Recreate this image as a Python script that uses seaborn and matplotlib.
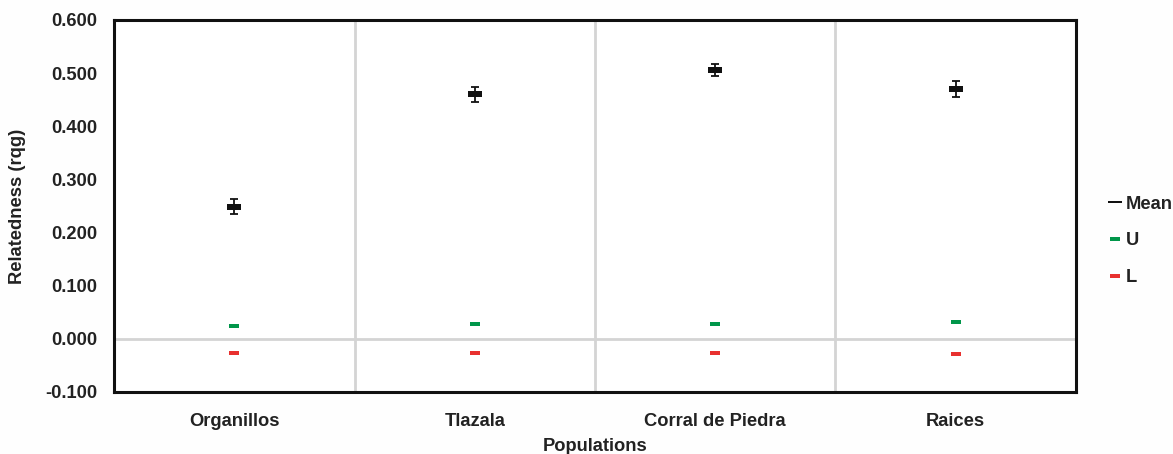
import numpy as np
import pandas as pd
import matplotlib
matplotlib.use("Agg")
import matplotlib.pyplot as plt
from matplotlib.path import Path
from matplotlib.lines import Line2D
import seaborn as sns

# Relatedness (rqg) per population with 95% bounds of the null distribution
populations = ["Organillos", "Tlazala", "Corral de Piedra", "Raices"]
mean_r = [0.249, 0.460, 0.506, 0.471]
mean_err = [0.015, 0.014, 0.012, 0.015]
upper = [0.025, 0.027, 0.028, 0.031]
lower = [-0.027, -0.027, -0.027, -0.029]
y_ticks = [-0.1, 0.0, 0.1, 0.2, 0.3, 0.4, 0.5, 0.6]

sns.set_theme(style="white")
plt.rcParams["font.family"] = ["Liberation Sans", "DejaVu Sans"]
plt.rcParams["font.weight"] = "bold"

FS = 13.2

df = pd.DataFrame({"Population": populations, "Mean": mean_r, "Err": mean_err,
                   "U": upper, "L": lower})

fig = plt.figure(figsize=(11.73, 4.54), dpi=100)
ax = fig.add_axes([0.0972, 0.1366, 0.9173 - 0.0972, 0.956 - 0.1366])

# Rectangular dash markers
wide_bar = Path([(-1, -0.36), (1, -0.36), (1, 0.36), (-1, 0.36), (-1, -0.36)],
                [Path.MOVETO, Path.LINETO, Path.LINETO, Path.LINETO, Path.CLOSEPOLY])
small_bar = Path([(-1, -0.55), (1, -0.55), (1, 0.55), (-1, 0.55), (-1, -0.55)],
                 [Path.MOVETO, Path.LINETO, Path.LINETO, Path.LINETO, Path.CLOSEPOLY])
thin_bar = Path([(-1, -0.2), (1, -0.2), (1, 0.2), (-1, 0.2), (-1, -0.2)],
                [Path.MOVETO, Path.LINETO, Path.LINETO, Path.LINETO, Path.CLOSEPOLY])

black = "#111111"
green = "#00964a"
red = "#e8312f"

pos = np.arange(len(populations))

# separators between population columns and the zero line
for b in pos[:-1] + 0.5:
    ax.axvline(b, color="#d4d4d4", lw=2, zorder=0)
ax.axhline(0, color="#d4d4d4", lw=2, zorder=0)

ax.errorbar(pos, df["Mean"], yerr=df["Err"], fmt="none", ecolor=black,
            elinewidth=1.3, capsize=3, capthick=1.3, zorder=3)

sns.scatterplot(data=df, x="Population", y="Mean", marker=wide_bar, s=14 ** 2 * 0.52,
                color=black, edgecolor=black, linewidth=0, ax=ax, zorder=4)
sns.scatterplot(data=df, x="Population", y="U", marker=small_bar, s=9 ** 2 * 0.52,
                color=green, edgecolor=green, linewidth=0, ax=ax, zorder=4)
sns.scatterplot(data=df, x="Population", y="L", marker=small_bar, s=9 ** 2 * 0.52,
                color=red, edgecolor=red, linewidth=0, ax=ax, zorder=4)

ax.set_xlim(-0.5, len(populations) - 0.5)
ax.set_ylim(-0.1, 0.6)
ax.set_yticks(y_ticks)
ax.set_yticklabels([f"{t:.3f}" for t in y_ticks])
ax.set_xticks(pos)
ax.set_xticklabels(populations)
ax.tick_params(axis="both", length=0, labelsize=FS, colors="#222222")
ax.tick_params(axis="x", pad=15)
ax.tick_params(axis="y", pad=12)
for lab in ax.get_xticklabels() + ax.get_yticklabels():
    lab.set_fontweight("bold")

ax.set_xlabel("Populations", fontsize=FS, fontweight="bold", color="#222222", labelpad=6)
ax.set_ylabel("Relatedness (rqg)", fontsize=FS, fontweight="bold", color="#222222", labelpad=14)

for sp in ax.spines.values():
    sp.set_visible(True)
    sp.set_color("#111111")
    sp.set_linewidth(2.2)

handles = [
    Line2D([], [], linestyle="none", marker=thin_bar, markersize=10,
           color=black, markeredgewidth=0, label="Mean"),
    Line2D([], [], linestyle="none", marker=small_bar, markersize=6.5,
           color=green, markeredgewidth=0, label="U"),
    Line2D([], [], linestyle="none", marker=small_bar, markersize=6.5,
           color=red, markeredgewidth=0, label="L"),
]
leg = ax.legend(handles=handles, loc="center left", bbox_to_anchor=(1.0, 0.406),
                frameon=False, fontsize=FS, handlelength=0.77, handletextpad=0.22,
                labelspacing=1.07, borderaxespad=1.35)
for t in leg.get_texts():
    t.set_fontweight("bold")
    t.set_color("#222222")

fig.patch.set_facecolor("#fefefe")
fig.savefig("out.png", dpi=100, facecolor=fig.get_facecolor())
